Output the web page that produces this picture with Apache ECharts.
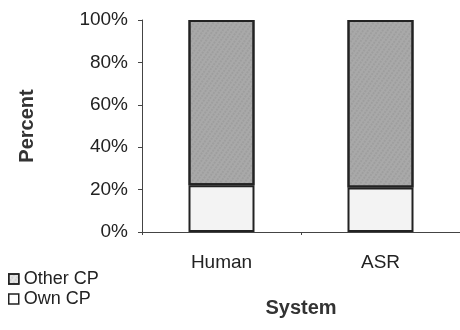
<!DOCTYPE html>
<html>
<head>
<meta charset="utf-8">
<script src="https://cdn.jsdelivr.net/npm/echarts@6/dist/echarts.min.js"></script>
<style>html,body{margin:0;padding:0;background:#fff}#c{width:460px;height:330px}</style>
</head>
<body>
<div id="c"></div>
<script>
var categories = ['Human', 'ASR'];
var ownCP = [22, 21];
var otherCP = [78, 79];
var yTicks = [0, 20, 40, 60, 80, 100];

var font = 'Liberation Sans, Arial, sans-serif';
var chart = echarts.init(document.getElementById('c'), null, {renderer: 'canvas'});
chart.setOption({
  animation: false,
  backgroundColor: '#fff',
  grid: {left: 142, top: 20, bottom: 98, right: 0, containLabel: false},
  legend: {
    data: [
      {name: 'Other CP', itemStyle: {color: '#e4e4e4'}},
      {name: 'Own CP', itemStyle: {color: '#ffffff'}}
    ],
    orient: 'vertical',
    left: 3,
    top: 264,
    itemWidth: 10,
    itemHeight: 10,
    itemGap: 0,
    icon: 'rect',
    itemStyle: {borderColor: '#222', borderWidth: 1.5},
    textStyle: {fontFamily: font, fontSize: 18, color: '#222', lineHeight: 20, padding: [0, 0, 0, 0]}
  },
  xAxis: {
    type: 'category',
    data: categories,
    name: 'System',
    nameLocation: 'middle',
    nameGap: 66,
    nameTextStyle: {fontFamily: font, fontSize: 20, fontWeight: 'bold', color: '#333'},
    axisLine: {lineStyle: {color: '#444', width: 1}},
    axisTick: {show: true, length: 3, alignWithLabel: false, lineStyle: {color: '#444'}},
    axisLabel: {fontFamily: font, fontSize: 19, color: '#222', margin: 21}
  },
  yAxis: {
    type: 'value',
    min: 0,
    max: 100,
    interval: 20,
    name: 'Percent',
    nameLocation: 'middle',
    nameGap: 105,
    nameTextStyle: {fontFamily: font, fontSize: 20, fontWeight: 'bold', color: '#333'},
    axisLine: {show: true, lineStyle: {color: '#444', width: 1}},
    axisTick: {show: true, length: 4, lineStyle: {color: '#444'}},
    splitLine: {show: false},
    axisLabel: {
      fontFamily: font, fontSize: 19, color: '#222', margin: 14,
      formatter: function (v) { return yTicks.indexOf(v) >= 0 ? v + '%' : ''; }
    }
  },
  series: [
    {
      name: 'Own CP',
      type: 'bar',
      stack: 'total',
      data: ownCP,
      barWidth: 66,
      itemStyle: {color: '#f3f3f3', borderColor: '#222', borderWidth: 2}
    },
    {
      name: 'Other CP',
      type: 'bar',
      stack: 'total',
      data: otherCP,
      barWidth: 66,
      itemStyle: {
        color: '#a9a9a9', borderColor: '#222', borderWidth: 2,
        decal: {symbol: 'rect', symbolSize: 0.6, color: 'rgba(70,70,70,0.35)', dashArrayX: [2, 2], dashArrayY: [2, 1], rotation: 0.6}
      }
    }
  ]
});
</script>
</body>
</html>
